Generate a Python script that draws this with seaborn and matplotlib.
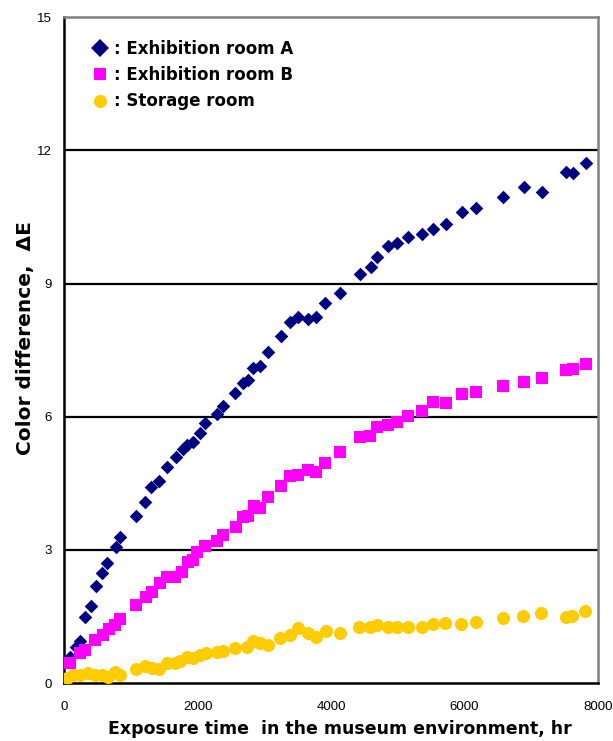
import matplotlib
matplotlib.use("Agg")
import matplotlib.pyplot as plt
from matplotlib.lines import Line2D
import seaborn as sns
import pandas as pd

# Exposure time (hr) and colour difference for each location
hours_a = [90, 180, 240, 310, 400, 475, 565, 640, 775, 835, 1075, 1210, 1300, 1420, 1540,
           1675, 1780, 1840, 1930, 2035, 2110, 2290, 2380, 2560, 2680, 2755, 2830, 2935, 3055,
           3250, 3385, 3505, 3655, 3775, 3910, 4135, 4435, 4600, 4690, 4855, 4990, 5155, 5365,
           5530, 5725, 5965, 6175, 6580, 6895, 7165, 7525, 7630, 7825]
de_a = [0.59, 0.82, 0.95, 1.49, 1.74, 2.19, 2.48, 2.71, 3.07, 3.29, 3.77, 4.08, 4.42, 4.56, 4.87,
        5.10, 5.28, 5.37, 5.43, 5.63, 5.86, 6.06, 6.24, 6.53, 6.76, 6.83, 7.10, 7.15, 7.46,
        7.82, 8.14, 8.25, 8.21, 8.25, 8.57, 8.79, 9.22, 9.37, 9.60, 9.85, 9.92, 10.05, 10.12,
        10.23, 10.34, 10.62, 10.71, 10.94, 11.17, 11.05, 11.52, 11.49, 11.72]

hours_b = [0, 85, 235, 310, 460, 580, 670, 760, 835, 1075, 1225, 1315, 1435, 1540, 1660,
           1765, 1855, 1930, 1990, 2110, 2290, 2380, 2575, 2680, 2755, 2845, 2935, 3055, 3250,
           3385, 3505, 3655, 3775, 3910, 4135, 4435, 4585, 4690, 4855, 4990, 5155, 5365, 5530,
           5725, 5965, 6175, 6580, 6895, 7165, 7525, 7630, 7825]
de_b = [0.0, 0.46, 0.68, 0.75, 0.98, 1.09, 1.22, 1.31, 1.45, 1.76, 1.94, 2.06, 2.26, 2.39, 2.39,
        2.51, 2.73, 2.78, 2.96, 3.09, 3.20, 3.34, 3.52, 3.75, 3.77, 3.99, 3.95, 4.20, 4.45,
        4.67, 4.69, 4.80, 4.76, 4.96, 5.21, 5.55, 5.57, 5.77, 5.82, 5.89, 6.02, 6.13, 6.33,
        6.31, 6.52, 6.56, 6.70, 6.79, 6.88, 7.06, 7.08, 7.19]

hours_s = [0, 40, 130, 235, 355, 460, 565, 655, 760, 835, 1075, 1210, 1315, 1420, 1540,
           1660, 1735, 1840, 1930, 2035, 2125, 2290, 2380, 2560, 2740, 2830, 2935, 3055, 3235,
           3385, 3505, 3655, 3775, 3925, 4135, 4420, 4585, 4690, 4855, 4990, 5155, 5365, 5530,
           5710, 5950, 6175, 6580, 6880, 7150, 7525, 7615, 7810]
de_s = [0.0, 0.12, 0.19, 0.19, 0.23, 0.19, 0.19, 0.14, 0.25, 0.19, 0.32, 0.39, 0.34, 0.32, 0.46,
        0.46, 0.50, 0.59, 0.57, 0.64, 0.68, 0.70, 0.73, 0.80, 0.82, 0.95, 0.91, 0.86, 1.02,
        1.09, 1.25, 1.13, 1.04, 1.18, 1.13, 1.27, 1.27, 1.31, 1.27, 1.27, 1.27, 1.27, 1.34,
        1.36, 1.34, 1.38, 1.47, 1.52, 1.58, 1.49, 1.52, 1.63]

labels = ["Exhibition room A", "Exhibition room B", "Storage room"]
x_ticks = [0, 2000, 4000, 6000, 8000]
y_ticks = [0, 3, 6, 9, 12, 15]

sns.set_style("white")
plt.rcParams["font.family"] = ["Liberation Sans", "DejaVu Sans"]
plt.rcParams.update({"text.color": "black", "axes.labelcolor": "black",
                     "xtick.color": "black", "ytick.color": "black"})

fig = plt.figure(figsize=(6.13, 7.41), dpi=100)
ax = fig.add_axes([0.105, 0.078, 0.870, 0.899])

# (hours, values, marker, scatter size, legend marker size, colour)
series = [
    (hours_a, de_a, "D", 48, 8.8, "#000080"),
    (hours_b, de_b, "s", 75, 8.7, "#FF00FF"),
    (hours_s, de_s, "o", 88, 9.4, "#FFCC00"),
]

handles = []
for i, (hrs, de, mk, size, msize, col) in enumerate(series):
    df = pd.DataFrame({"hours": hrs, "dE": de})
    sns.scatterplot(data=df, x="hours", y="dE", marker=mk, s=size, color=col,
                    linewidth=0, ax=ax, legend=False, zorder=3 + i)
    handles.append(Line2D([], [], linestyle="none", marker=mk, markersize=msize,
                          markerfacecolor=col, markeredgewidth=0,
                          label=": " + labels[i]))

ax.set_xlim(0, 8000)
ax.set_ylim(0, 15)
ax.set_xticks(x_ticks)
ax.set_yticks(y_ticks)
ax.set_xticklabels([str(v) for v in x_ticks])
ax.set_yticklabels([str(v) for v in y_ticks])

# horizontal gridlines at the inner y ticks
for yv in y_ticks[1:-1]:
    ax.axhline(yv, color="black", lw=1.6, zorder=1)

ax.tick_params(axis="both", direction="in", length=4, width=1.4, colors="black",
               labelsize=9.5)
ax.tick_params(axis="x", pad=13)
ax.tick_params(axis="y", pad=9)

for side in ["left", "bottom"]:
    ax.spines[side].set_color("black")
    ax.spines[side].set_linewidth(1.8)
for side in ["top", "right"]:
    ax.spines[side].set_color("#808080")
    ax.spines[side].set_linewidth(1.8)

ax.set_xlabel("Exposure time  in the museum environment, hr", fontsize=12.5,
              fontweight="bold", family="DejaVu Sans")
ax.set_ylabel("Color difference,  ΔE", fontsize=14.5, fontweight="bold",
              family="DejaVu Sans")
ax.xaxis.set_label_coords(0.517, -0.055)
ax.yaxis.set_label_coords(-0.055, 0.518)

ax.legend(handles=handles, loc="upper left", bbox_to_anchor=(0.024, 0.988),
          frameon=False, handletextpad=0.3, handlelength=1.0, labelspacing=0.49,
          prop={"weight": "bold", "size": 12, "family": "DejaVu Sans"})

fig.savefig("out.png", dpi=100)
